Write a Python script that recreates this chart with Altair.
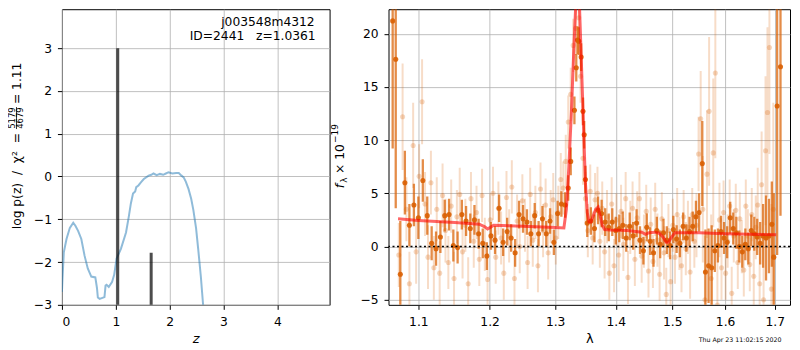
import altair as alt
import pandas as pd

# ---------------- left panel: log p(z) ----------------
pz_z = [0.0, 0.01, 0.035, 0.085, 0.147, 0.21, 0.25, 0.30, 0.36, 0.42,
        0.48, 0.545, 0.62, 0.65, 0.667, 0.70, 0.79, 0.81, 0.83, 0.87,
        0.93, 0.97, 1.015, 1.095, 1.19, 1.24, 1.28, 1.32, 1.36, 1.38,
        1.42, 1.47, 1.52, 1.61, 1.66, 1.70, 1.76, 1.82, 1.88, 1.93,
        1.98, 2.05, 2.12, 2.17, 2.22, 2.26, 2.30, 2.35, 2.40, 2.44,
        2.49, 2.53, 2.58, 2.62, 2.65]
pz_logp = [-2.7, -2.4, -1.77, -1.46, -1.2, -1.08, -1.15, -1.27, -1.46, -1.85,
           -2.15, -2.34, -2.36, -2.6, -2.83, -2.86, -2.82, -2.55, -2.53, -2.58,
           -2.47, -2.30, -1.92, -1.69, -1.31, -0.95, -0.63, -0.40, -0.35, -0.25,
           -0.21, -0.13, -0.06, 0.02, 0.04, 0.07, 0.03, 0.06, 0.04, 0.07,
           0.10, 0.07, 0.08, 0.08, 0.02, -0.02, -0.12, -0.29, -0.52, -0.78,
           -1.2, -1.69, -2.35, -2.98, -3.4]
peak_z = [1.0361, 1.657]
peak_top = [3.0, -1.78]
peak_base = [-3.5, -3.5]

# ---------------- right panel: spectrum ----------------
model_lam = [1.073, 1.10, 1.15, 1.185, 1.193, 1.197, 1.201, 1.206, 1.25, 1.30,
             1.314, 1.318, 1.322, 1.326, 1.330, 1.333, 1.336, 1.339, 1.342, 1.346,
             1.349, 1.352, 1.355, 1.358, 1.362, 1.366, 1.370, 1.373, 1.377, 1.381,
             1.39, 1.42, 1.445, 1.452, 1.458, 1.468, 1.476, 1.483, 1.489, 1.493,
             1.499, 1.505, 1.55, 1.60, 1.65, 1.703]
model_flux = [2.6, 2.45, 2.25, 2.1, 1.85, 1.65, 1.8, 2.0, 1.9, 1.78,
              1.75, 3.5, 7.5, 12.5, 18.5, 22.5, 24.5, 23.0, 18.0, 11.0,
              6.0, 3.2, 2.3, 2.3, 2.9, 3.5, 3.7, 3.0, 2.0, 1.6,
              1.55, 1.5, 1.35, 1.15, 1.3, 1.35, 1.25, 0.9, 0.4, 0.4,
              0.9, 1.3, 1.3, 1.2, 1.15, 1.1]

dark_lam = [1.066, 1.070, 1.076, 1.082, 1.088, 1.094, 1.100, 1.106, 1.112, 1.118,
            1.124, 1.130, 1.136, 1.142, 1.148, 1.154, 1.160, 1.166, 1.172, 1.178,
            1.184, 1.190, 1.196, 1.202, 1.208, 1.214, 1.220, 1.226, 1.232, 1.238,
            1.244, 1.250, 1.256, 1.262, 1.268, 1.274, 1.280, 1.286, 1.292, 1.298,
            1.304, 1.310, 1.316, 1.321, 1.325, 1.331, 1.334, 1.336, 1.338, 1.342,
            1.345, 1.347, 1.349, 1.352, 1.358, 1.364, 1.370, 1.376, 1.382, 1.388,
            1.394, 1.400, 1.406, 1.412, 1.418, 1.424, 1.430, 1.436, 1.442, 1.448,
            1.454, 1.460, 1.466, 1.472, 1.478, 1.484, 1.490, 1.496, 1.502, 1.508,
            1.514, 1.520, 1.526, 1.532, 1.538, 1.544, 1.550, 1.556, 1.562, 1.568,
            1.574, 1.580, 1.586, 1.592, 1.598, 1.604, 1.610, 1.616, 1.622, 1.628,
            1.634, 1.640, 1.646, 1.652, 1.658, 1.664, 1.670, 1.676, 1.682, 1.688,
            1.694, 1.698, 1.705, 1.712]
dark_flux = [21.2, 17.6, -2.6, 6.0, 2.0, 3.9, 2.7, 6.2, 2.9, 0.3,
             -0.2, 0.9, 2.9, 3.0, 0.1, -0.1, 3.0, 2.4, 1.7, 2.5,
             1.2, 0.3, -0.9, 1.0, 0.6, 3.6, 0.4, 1.4, 0.8, -0.6,
             3.0, 2.6, 2.3, 1.2, 2.9, 1.2, 2.6, 1.2, 2.4, 0.4,
             3.1, 4.0, 3.9, 5.5, 8.0, 12.8, 16.8, 19.4, 19.3, 17.8,
             12.7, 10.5, 6.3, 2.2, 2.4, 1.7, 3.4, 3.1, 2.3, 1.8,
             2.3, 1.5, 1.7, 2.0, 0.8, 1.9, 1.0, 2.2, 0.6, -0.4,
             1.8, 0.5, -0.6, 1.5, 0.2, 1.3, 0.6, 0.1, 1.6, 0.7,
             0.3, 1.9, 0.8, 1.4, 1.9, 2.8, 3.2, 7.8, -2.4, -1.8,
             -2.0, -0.4, 0.1, 1.4, 0.8, 0.4, 2.7, 1.7, 1.3, 0.0,
             -0.5, 0.2, -0.2, 1.5, 1.2, 0.9, 0.3, 1.0, 0.8, 1.0,
             2.1, -1.0, 13.2, 16.9]
dark_err = [12, 14, 5, 3, 2, 2, 2, 2, 1.8, 1.6,
            1.6, 1.5, 1.5, 1.5, 1.5, 1.5, 1.4, 1.4, 1.4, 1.4,
            1.4, 1.4, 1.3, 1.3, 1.3, 1.3, 1.3, 1.3, 1.3, 1.3,
            1.3, 1.3, 1.2, 1.2, 1.2, 1.2, 1.2, 1.2, 1.2, 1.2,
            1.2, 1.2, 1.2, 1.2, 1.3, 1.3, 1.3, 1.3, 1.3, 1.3,
            1.3, 1.3, 1.3, 1.3, 1.3, 1.3, 1.3, 1.3, 1.3, 1.3,
            1.3, 1.3, 1.3, 1.3, 1.3, 1.3, 1.3, 1.3, 1.3, 1.3,
            1.3, 1.3, 1.3, 1.3, 1.3, 1.3, 1.3, 1.3, 1.3, 1.3,
            1.3, 1.3, 1.3, 1.4, 1.4, 1.5, 1.8, 4, 4, 3.5,
            4, 2, 1.6, 1.5, 1.5, 1.5, 1.5, 1.5, 1.5, 1.5,
            1.5, 1.5, 1.5, 1.5, 1.6, 1.7, 2, 3, 4, 3.5,
            4, 6, 14, 14]

light_lam = [1.074, 1.079, 1.084, 1.088, 1.093, 1.097, 1.101, 1.105, 1.109, 1.113,
             1.117, 1.121, 1.125, 1.129, 1.133, 1.137, 1.141, 1.145, 1.149, 1.153,
             1.157, 1.161, 1.165, 1.169, 1.173, 1.177, 1.181, 1.185, 1.189, 1.193,
             1.197, 1.201, 1.205, 1.209, 1.213, 1.217, 1.221, 1.225, 1.229, 1.233,
             1.237, 1.241, 1.245, 1.249, 1.253, 1.257, 1.261, 1.265, 1.269, 1.273,
             1.277, 1.281, 1.285, 1.289, 1.293, 1.297, 1.301, 1.305, 1.309, 1.313,
             1.317, 1.321, 1.325, 1.329, 1.333, 1.338, 1.341, 1.345, 1.349, 1.353,
             1.357, 1.361, 1.365, 1.369, 1.373, 1.377, 1.381, 1.385, 1.389, 1.393,
             1.397, 1.401, 1.405, 1.409, 1.413, 1.417, 1.421, 1.425, 1.429, 1.433,
             1.437, 1.441, 1.445, 1.449, 1.453, 1.457, 1.461, 1.465, 1.469, 1.473,
             1.477, 1.481, 1.485, 1.489, 1.493, 1.497, 1.501, 1.505, 1.509, 1.513,
             1.517, 1.521, 1.525, 1.529, 1.533, 1.537, 1.541, 1.545, 1.549, 1.553,
             1.557, 1.561, 1.565, 1.569, 1.573, 1.577, 1.581, 1.585, 1.589, 1.593,
             1.597, 1.601, 1.605, 1.609, 1.613, 1.617, 1.621, 1.625, 1.629, 1.633,
             1.637, 1.641, 1.645, 1.649, 1.653, 1.657, 1.661, 1.665, 1.669, 1.673,
             1.677, 1.681, 1.685, 1.689, 1.693, 1.697]
light_flux = [-0.8, 12.2, 3.5, -3.5, 9.5, -0.5, 6.6, 13.6, 4.0, -1.0,
              6.0, -2.0, 3.5, -2.5, 4.8, 1.5, -1.5, 3.8, -3.0, 2.8,
              4.9, -0.5, 2.0, -3.5, 4.5, 0.5, 3.2, -1.2, 4.8, 0.2,
              -3.1, 2.5, 5.0, -1.0, 3.6, 0.8, -2.5, 4.6, 1.0, 5.6,
              -3.0, 2.4, 0.0, 4.3, 2.0, -1.5, 4.9, 0.6, 3.2, -1.8,
              5.4, 1.5, 3.9, -0.6, 2.8, 4.4, 0.8, 3.2, 6.3, 5.5,
              8.0, 11.7, 14.3, 18.9, 20.5, 21.5, 16.0, 8.3, 4.5, 1.5,
              5.2, 0.8, 4.4, 5.0, 0.5, 3.6, -0.5, 2.8, -2.5, 4.0,
              -1.8, 2.5, -0.8, 3.3, 0.2, 4.5, -2.9, 1.8, 3.6, -1.2,
              2.7, 4.5, -0.9, 0.5, 3.3, -2.3, 2.1, -1.4, 3.5, 0.6,
              -2.6, 2.6, -0.6, -4.5, 1.5, -3.3, 2.0, -1.0, 3.0, 0.3,
              -1.8, 2.8, -0.2, 1.8, -2.4, 3.0, 0.5, 2.0, 8.7, 12.0,
              3.5, -5.0, 6.8, 12.7, -3.0, 8.8, 16.3, -5.5, 2.5, -2.0,
              3.2, -2.5, 0.5, 3.8, -4.4, 1.0, 3.4, -1.5, 2.6, 0.0,
              -2.2, 3.8, 1.0, -1.7, 3.0, -2.8, 1.8, 3.9, -3.5, 5.8,
              -5.0, 9.0, 12.6, 18.7, -4.0, 3.5]
light_err = [3, 5, 3, 3, 4, 3, 3, 4, 3, 3,
             3, 3, 3, 3, 3, 3, 2.5, 2.5, 2.5, 2.5,
             2.5, 2.5, 2.5, 2.5, 2.5, 2.5, 2.5, 2.5, 2.5, 2.5,
             2.5, 2.5, 2.5, 2.5, 2.5, 2.5, 2.5, 2.5, 2.5, 2.5,
             2.5, 2.5, 2.5, 2.5, 2.5, 2.5, 2.5, 2.5, 2.5, 2.5,
             2.5, 2.5, 2.5, 2.5, 2.5, 2.5, 2.5, 2.5, 2.5, 2.5,
             2.5, 2.5, 2.5, 2.5, 2.5, 2.5, 2.5, 2.5, 2.5, 2.5,
             2.5, 2.5, 2.5, 2.5, 2.5, 2.5, 2.5, 2.5, 2.5, 2.5,
             2.5, 2.5, 2.5, 2.5, 2.5, 2.5, 2.5, 2.5, 2.5, 2.5,
             2.5, 2.5, 2.5, 2.5, 2.5, 2.5, 2.5, 2.5, 2.5, 2.5,
             2.5, 2.5, 2.5, 2.5, 2.5, 2.5, 2.5, 2.5, 2.5, 2.5,
             2.5, 2.5, 2.5, 2.5, 2.5, 2.5, 2.5, 3, 3.5, 4.5,
             5, 6, 6, 7, 6, 7, 8, 5, 3.5, 3,
             3, 2.5, 2.5, 2.5, 2.5, 2.5, 2.5, 2.5, 2.5, 2.5,
             2.5, 2.5, 2.5, 2.5, 2.5, 2.8, 3, 3.5, 4, 5,
             6, 7, 8, 10, 8, 10]

label_name = "j003548m4312"
label_info = "ID=2441\u00a0\u00a0\u00a0z=1.0361"
stamp = "Thu Apr 23 11:02:15 2020"
left_x_ticks = [0, 1, 2, 3, 4]
left_y_ticks = [-3, -2, -1, 0, 1, 2, 3]
right_x_ticks = [1.1, 1.2, 1.3, 1.4, 1.5, 1.6, 1.7]
right_y_ticks = [-5, 0, 5, 10, 15, 20]

FONT = "DejaVu Sans"
ORANGE = "#d95f02"
W1, W2, H = 268, 402, 296


def txt(s, **kw):
    return alt.Chart(pd.DataFrame({"t": [s]})).mark_text(
        font=FONT, color="black", **kw).encode(text="t:N")


# ---------- left panel ----------
xs1 = alt.Scale(domain=[0, 4.97], nice=False, zero=False)
ys1 = alt.Scale(domain=[-3, 3.91], nice=False, zero=False)
xax1 = alt.Axis(values=left_x_ticks, format="d", title="z", titleFontStyle="italic")
yax1 = alt.Axis(values=left_y_ticks, format="d", title=None)

pz_df = pd.DataFrame({"z": pz_z, "logp": pz_logp})
peaks_df = pd.DataFrame({"z": peak_z, "top": peak_top, "base": peak_base})

curve = alt.Chart(pz_df).mark_line(color="#1f77b4", opacity=0.5, strokeWidth=2, clip=True).encode(
    x=alt.X("z:Q", scale=xs1, axis=xax1), y=alt.Y("logp:Q", scale=ys1, axis=yax1))
peaks = alt.Chart(peaks_df).mark_rule(color="black", opacity=0.7, strokeWidth=3, clip=True).encode(
    x=alt.X("z:Q", scale=xs1, axis=xax1), y=alt.Y("base:Q", scale=ys1, axis=yax1), y2="top:Q")

name_t = txt(label_name, align="right", baseline="middle", fontSize=12.3).encode(
    x=alt.value(W1 - 15), y=alt.value(12.5))
info_t = txt(label_info, align="right", baseline="middle", fontSize=12.3).encode(
    x=alt.value(W1 - 14), y=alt.value(26.5))

ytitle_main = txt("log\u00a0p(z)\u00a0\u00a0/\u00a0\u00a0χ²\u00a0\u00a0=", angle=270, align="right",
                  baseline="middle", fontSize=12.3).encode(x=alt.value(-45), y=alt.value(124))
ytitle_num = txt("5179", angle=270, align="center", baseline="middle", fontSize=8.5).encode(
    x=alt.value(-49.5), y=alt.value(109))
ytitle_den = txt("4679", angle=270, align="center", baseline="middle", fontSize=8.5).encode(
    x=alt.value(-41.5), y=alt.value(109))
ytitle_bar = alt.Chart(pd.DataFrame({"a": [0]})).mark_rule(color="black", strokeWidth=0.8).encode(
    x=alt.value(-45.5), y=alt.value(98), y2=alt.value(120))
ytitle_eq = txt("= 1.11", angle=270, align="left", baseline="middle", fontSize=12.3).encode(
    x=alt.value(-45), y=alt.value(95))

left = alt.layer(curve, peaks, name_t, info_t, ytitle_main, ytitle_num, ytitle_den,
                 ytitle_bar, ytitle_eq).properties(width=W1, height=H)

# ---------- right panel ----------
xs2 = alt.Scale(type="log", domain=[1.0606, 1.732], nice=False)
ys2 = alt.Scale(domain=[-5.48, 22.3], nice=False, zero=False)
xax2 = alt.Axis(values=right_x_ticks, format=".1f", title="λ")
yax2 = alt.Axis(values=right_y_ticks, format="d", title=None)

light_df = pd.DataFrame({"lam": light_lam, "flux": light_flux, "err": light_err})
light_df["lo"] = light_df["flux"] - light_df["err"]
light_df["hi"] = light_df["flux"] + light_df["err"]
dark_df = pd.DataFrame({"lam": dark_lam, "flux": dark_flux, "err": dark_err})
dark_df["lo"] = dark_df["flux"] - dark_df["err"]
dark_df["hi"] = dark_df["flux"] + dark_df["err"]
model_df = pd.DataFrame({"lam": model_lam, "flux": model_flux})


def X2():
    return alt.X("lam:Q", scale=xs2, axis=xax2)


light_bars = alt.Chart(light_df).mark_rule(color=ORANGE, opacity=0.22, strokeWidth=2, clip=True).encode(
    x=X2(), y=alt.Y("lo:Q", scale=ys2, axis=yax2), y2="hi:Q")
light_pts = alt.Chart(light_df).mark_circle(color=ORANGE, opacity=0.25, size=26, clip=True).encode(
    x=X2(), y=alt.Y("flux:Q", scale=ys2, axis=yax2))
dark_bars = alt.Chart(dark_df).mark_rule(color=ORANGE, opacity=0.72, strokeWidth=2.3, clip=True).encode(
    x=X2(), y=alt.Y("lo:Q", scale=ys2, axis=yax2), y2="hi:Q")
dark_pts = alt.Chart(dark_df).mark_circle(color=ORANGE, opacity=0.9, size=26, clip=True).encode(
    x=X2(), y=alt.Y("flux:Q", scale=ys2, axis=yax2))
model = alt.Chart(model_df).mark_line(color="red", opacity=0.6, strokeWidth=3, clip=True).encode(
    x=X2(), y=alt.Y("flux:Q", scale=ys2, axis=yax2))
zero = alt.Chart(pd.DataFrame({"y": [0.0]})).mark_rule(color="black", strokeDash=[2, 2.5], strokeWidth=1.5).encode(
    y=alt.Y("y:Q", scale=ys2, axis=yax2))

rt_f = txt("f", angle=270, align="center", baseline="middle", fontSize=12.3, fontStyle="italic").encode(
    x=alt.value(-49), y=alt.value(177))
rt_sub = txt("λ", angle=270, align="center", baseline="middle", fontSize=9).encode(
    x=alt.value(-45), y=alt.value(171))
rt_mid = txt("× 10", angle=270, align="left", baseline="middle", fontSize=12.3).encode(
    x=alt.value(-49), y=alt.value(165))
rt_sup = txt("−19", angle=270, align="left", baseline="middle", fontSize=9).encode(
    x=alt.value(-53.5), y=alt.value(134))
stamp_t = txt(stamp, align="center", baseline="middle", fontSize=6.3).encode(
    x=alt.value(W2 - 50), y=alt.value(331))

right = alt.layer(light_bars, light_pts, dark_bars, dark_pts, model, zero,
                  rt_f, rt_sub, rt_mid, rt_sup, stamp_t).properties(width=W2, height=H)

chart = alt.hconcat(left, right, spacing=0).properties(
    padding={"left": 0, "top": 0, "right": 0, "bottom": 0},
    background="white",
).configure_view(
    stroke="black", strokeWidth=1
).configure_axis(
    labelFont=FONT, labelFontSize=12.3, labelColor="black",
    tickColor="black", tickSize=4.5, tickWidth=1, labelPadding=6,
    domain=False, grid=True, gridColor="#b0b0b0", gridWidth=0.8,
    titleFont=FONT, titleFontSize=13, titleColor="black", titleFontWeight="normal",
    titlePadding=5,
)

chart.save("out.html", embed_options={"renderer": "svg", "actions": False})
